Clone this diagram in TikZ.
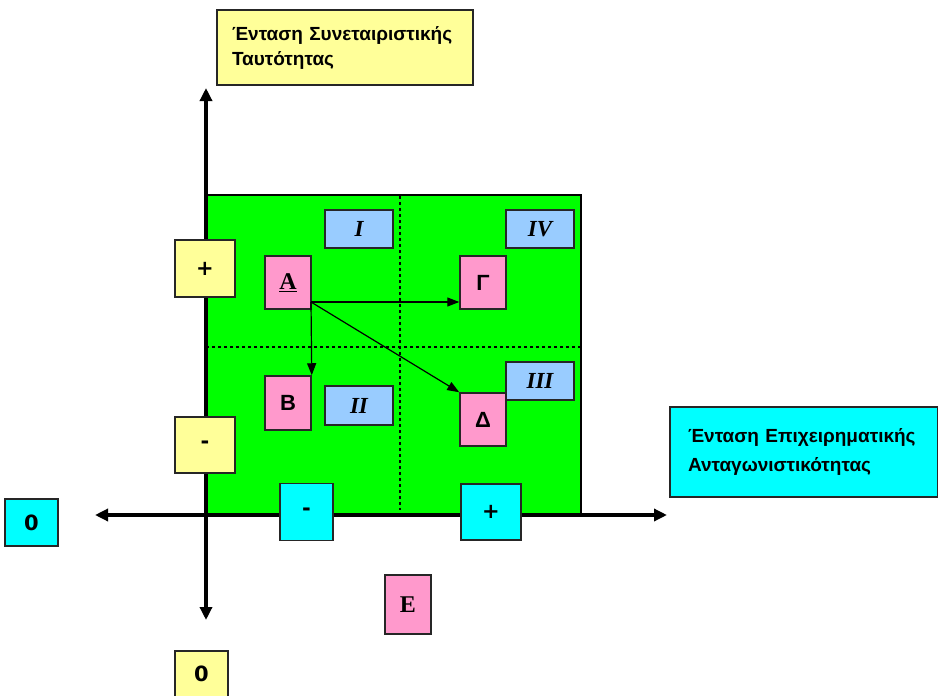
\documentclass[tikz,border=0pt]{standalone}
\usepackage{fontspec}
\setmainfont{Liberation Sans}[BoldFont={Liberation Sans Bold}]
\newfontfamily\serifbi{Liberation Serif}[BoldFont={Liberation Serif Bold},BoldItalicFont={Liberation Serif Bold Italic}]
\newfontfamily\signfont{DejaVu Sans}[BoldFont={DejaVu Sans Bold}]
\usetikzlibrary{arrows.meta}
\definecolor{cyel}{HTML}{FFFF99}
\definecolor{cpink}{HTML}{FF99CC}
\definecolor{cblue}{HTML}{99CCFF}
\definecolor{ccyan}{HTML}{00FFFF}
\definecolor{cgreen}{HTML}{00FF00}
\begin{document}
\begin{tikzpicture}[x=1pt,y=-1pt,
  box/.style={draw=black!85,line width=1.5,inner sep=0,font=\fontsize{22}{24}\selectfont\bfseries},
  signbox/.style={box,font=\fontsize{21}{22}\selectfont\signfont\bfseries},
  ybox/.style={signbox,fill=cyel},
  cbox/.style={signbox,fill=ccyan},
  pbox/.style={box,fill=cpink},
  bbox/.style={box,fill=cblue,font=\fontsize{23}{24}\selectfont\serifbi\bfseries\itshape},
  axis/.style={line width=3.5,{Triangle[length=13,width=12]}-{Triangle[length=13,width=12]}},
  thinarrow/.style={line width=1.2,-{Triangle[length=12,width=9]}},
  dots/.style={line width=2.8,dash pattern=on 3pt off 3pt}]
\useasboundingbox (0,0) rectangle (938,696);
% green field
\node[draw=black,line width=1.5,fill=cgreen,minimum width=375,minimum height=320,inner sep=0] (field) at (393.5,355) {};
\coordinate (vt) at (400,196);
\coordinate (vb) at (400,510);
\coordinate (hl) at (206,347);
\coordinate (hr) at (581,347);
\draw[dots] (vt) -- (vb);
\draw[dots] (hl) -- (hr);
% axes
\coordinate (ytop) at (206,88);
\coordinate (ybot) at (206,620);
\coordinate (xl) at (95,515);
\coordinate (xr) at (667,515);
\draw[axis] (ybot) -- (ytop);
\draw[axis] (xl) -- (xr);
% title labels
\node[box,fill=cyel,minimum width=256,minimum height=75,text width=226,align=left,font=\fontsize{19}{25}\selectfont\bfseries] (ytitle) at (345,47.5) {Ένταση Συνεταιριστικής\\Ταυτότητας};
\node[box,fill=ccyan,minimum width=268,minimum height=90,text width=232,align=left,font=\fontsize{19}{29}\selectfont\bfseries] (xtitle) at (804,452) {Ένταση Επιχειρηματικής\\Ανταγωνιστικότητας\\[16pt]};
% y signs
\node[ybox,minimum width=60,minimum height=57] (yp) at (205,268.5) {+};
\node[ybox,minimum width=60,minimum height=56] (ym) at (205,445) {-};
\node[ybox,minimum width=53,minimum height=46] (y0) at (201.5,674) {0};
% x signs
\node[cbox,minimum width=53,minimum height=57] (xm) at (306.5,512) {-};
\node[cbox,minimum width=60,minimum height=56] (xp) at (491,512) {+};
\node[cbox,minimum width=53,minimum height=47] (x0) at (31.5,522.5) {0};
% quadrant labels
\node[bbox,minimum width=68,minimum height=38] (q1) at (359,229) {I};
\node[bbox,minimum width=68,minimum height=38] (q4) at (540,229) {IV};
\node[bbox,minimum width=68,minimum height=39] (q2) at (359,405.5) {II};
\node[bbox,minimum width=68,minimum height=38] (q3) at (540,381) {III};
% pink boxes
\node[pbox,minimum width=46,minimum height=53,font=\fontsize{24}{24}\selectfont\serifbi\bfseries] (A) at (288,282.5) {\underline{A}};
\node[pbox,minimum width=46,minimum height=53] (G) at (483,282.5) {Γ};
\node[pbox,minimum width=46,minimum height=54] (B) at (288,403) {B};
\node[pbox,minimum width=46,minimum height=53] (D) at (483,419.5) {Δ};
\node[pbox,minimum width=46,minimum height=59,font=\fontsize{24}{24}\selectfont\serifbi\bfseries] (E) at (408,604.5) {E};
% arrows
\coordinate (a0) at (311,302);
\draw[thinarrow] (a0) -- (a0 -| G.west);
\draw[thinarrow] (a0) -- (B.north east);
\draw[thinarrow] (a0) -- (D.north west);
\end{tikzpicture}
\end{document}
